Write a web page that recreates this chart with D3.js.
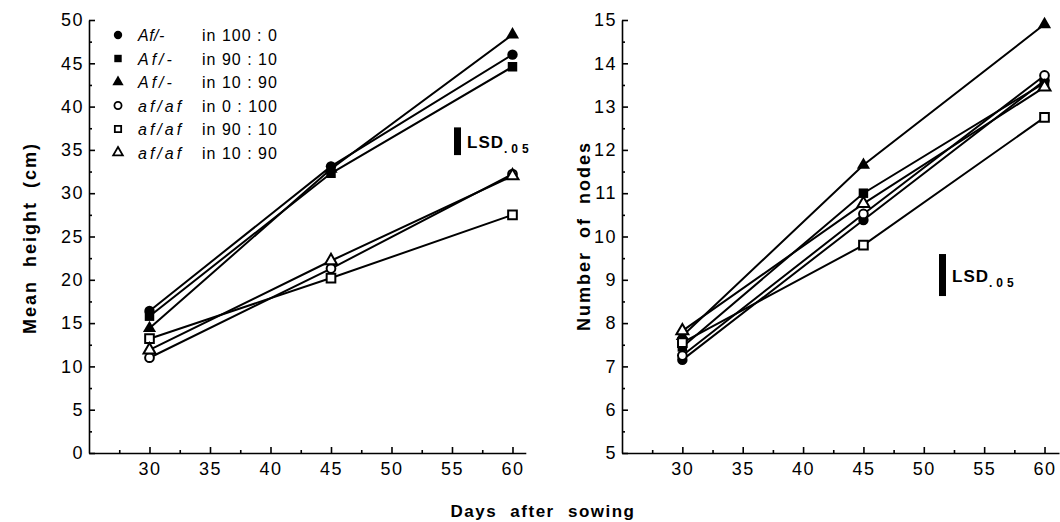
<!DOCTYPE html>
<html>
<head>
<meta charset="utf-8">
<script src="https://cdn.jsdelivr.net/npm/d3@7"></script>
<style>
  body { margin: 0; background: #fff; }
  text { font-family: "Liberation Sans", Arial, sans-serif; fill: #000; }
  .tick text { font-size: 18px; letter-spacing: 1.5px; }
  .axis path, .axis line { stroke: #000; stroke-width: 1.6; }
</style>
</head>
<body>
<svg id="chart" width="1060" height="522"></svg>
<script>
// data
const days = [30, 45, 60];
const genotypes = ["Af/-", "Af/-", "Af/-", "af/af", "af/af", "af/af"];
const ratios = ["in 100 : 0", "in 90 : 10", "in 10 : 90", "in 0 : 100", "in 90 : 10", "in 10 : 90"];
const heightVals = [
    [16.4, 33.1, 46.0],
    [15.8, 32.3, 44.6],
    [14.4, 32.8, 48.3],
    [11.0, 21.3, 32.2],
    [13.2, 20.2, 27.5],
    [11.9, 22.2, 32.0]
];
const nodeVals = [
    [7.15, 10.38, 13.6],
    [7.45, 11.0, 13.55],
    [7.7, 11.65, 14.9],
    [7.25, 10.52, 13.72],
    [7.55, 9.8, 12.75],
    [7.82, 10.76, 13.45]
];
const xTicks = [30, 35, 40, 45, 50, 55, 60];
const heightTicks = [0, 5, 10, 15, 20, 25, 30, 35, 40, 45, 50];
const nodeTicks = [5, 6, 7, 8, 9, 10, 11, 12, 13, 14, 15];
const lsdHeight = {center: 36, size: 3.2};
const lsdNodes = {center: 9.11, size: 0.97};

const svg = d3.select('#chart');
const symbols = [d3.symbolCircle, d3.symbolSquare, d3.symbolTriangle,
                 d3.symbolCircle, d3.symbolSquare, d3.symbolTriangle];
const symSize = [85, 90, 75, 60, 75, 62];

const drawPanel = (opts) => {
    const x = d3.scaleLinear().domain(opts.xDomain).range(opts.xRange);
    const y = d3.scaleLinear().domain(opts.yDomain).range([453, 20]);
    const g = svg.append('g');

    // x axis, ticks pointing inward
    g.append('g').attr('class', 'axis').attr('transform', 'translate(0,453)')
        .call(d3.axisBottom(x).tickValues(xTicks).tickSize(-6).tickSizeOuter(0).tickPadding(13))
        .call(a => a.selectAll('.tick text').attr('dy', '0.5em'));
    g.append('g').attr('class', 'axis').attr('transform', 'translate(0,453)')
        .call(d3.axisBottom(x).tickValues(d3.range(27.5, 60, 5)).tickSize(-3).tickSizeOuter(0).tickFormat(''))
        .call(a => a.select('.domain').remove());

    // y axis
    g.append('g').attr('class', 'axis').attr('transform', `translate(${opts.xRange[0]},0)`)
        .call(d3.axisLeft(y).tickValues(opts.yTicks).tickSize(-6).tickSizeOuter(0).tickPadding(5));
    g.append('g').attr('class', 'axis').attr('transform', `translate(${opts.xRange[0]},0)`)
        .call(d3.axisLeft(y).tickValues(opts.yMinor).tickSize(-3).tickFormat(''))
        .call(a => a.select('.domain').remove());

    g.append('text')
        .attr('transform', `translate(${opts.titleX},${opts.titleY}) rotate(-90)`)
        .attr('text-anchor', 'middle')
        .style('font-size', '18px').style('font-weight', 'bold')
        .style('letter-spacing', '2px').style('word-spacing', '6px')
        .text(opts.title);

    const line = d3.line().x((d, i) => x(days[i])).y(d => y(d));
    g.selectAll('.series').data(opts.values).join('path')
        .attr('d', line)
        .attr('fill', 'none').attr('stroke', '#000').attr('stroke-width', 2);

    opts.values.forEach((vals, s) => {
        g.selectAll(null).data(vals).join('path')
            .attr('transform', (d, i) => `translate(${x(days[i])},${y(d)})`)
            .attr('d', d3.symbol().type(symbols[s]).size(symSize[s]))
            .attr('fill', s < 3 ? '#000' : '#fff')
            .attr('stroke', '#000').attr('stroke-width', s < 3 ? 0 : 2);
    });

    // LSD bar
    const lsd = opts.lsd;
    g.append('rect')
        .attr('x', opts.lsdX).attr('width', 7)
        .attr('y', y(lsd.center + lsd.size / 2))
        .attr('height', y(lsd.center - lsd.size / 2) - y(lsd.center + lsd.size / 2))
        .attr('fill', '#000');
    const t = g.append('text')
        .attr('x', opts.lsdX + 13).attr('y', y(lsd.center) + 7)
        .style('font-size', '17px').style('font-weight', 'bold')
        .style('letter-spacing', '1px');
    t.append('tspan').text('LSD');
    t.append('tspan').attr('dy', 5).style('font-size', '12px').style('letter-spacing', '4px').text('.05');
};

drawPanel({
    xDomain: [25, 61.1], xRange: [89, 525.8],
    yDomain: [0, 50], yTicks: heightTicks, yMinor: d3.range(2.5, 50, 5),
    values: heightVals, title: 'Mean height (cm)', titleX: 36, titleY: 238,
    lsd: lsdHeight, lsdX: 454
});
drawPanel({
    xDomain: [25, 61.2], xRange: [622, 1059],
    yDomain: [5, 15], yTicks: nodeTicks, yMinor: d3.range(5.5, 15, 1),
    values: nodeVals, title: 'Number of nodes', titleX: 590, titleY: 236,
    lsd: lsdNodes, lsdX: 939
});

// legend
const legend = svg.append('g');
genotypes.forEach((gt, i) => {
    const yy = 35 + i * 23.5;
    legend.append('path')
        .attr('transform', `translate(118,${yy})`)
        .attr('d', d3.symbol().type(symbols[i]).size(i < 3 ? 55 : 40))
        .attr('fill', i < 3 ? '#000' : '#fff')
        .attr('stroke', '#000').attr('stroke-width', i < 3 ? 0 : 1.8);
    legend.append('text')
        .attr('x', 138).attr('y', yy + 6)
        .style('font-size', '16px').style('font-style', 'italic')
        .style('letter-spacing', i === 0 ? '0.5px' : '3px')
        .text(gt);
    legend.append('text')
        .attr('x', 202).attr('y', yy + 6)
        .style('font-size', '16px').style('letter-spacing', '1px')
        .text(ratios[i]);
});

svg.append('text')
    .attr('x', 543).attr('y', 517)
    .attr('text-anchor', 'middle')
    .style('font-size', '17px').style('font-weight', 'bold')
    .style('letter-spacing', '1.5px').style('word-spacing', '7px')
    .text('Days after sowing');
</script>
</body>
</html>
